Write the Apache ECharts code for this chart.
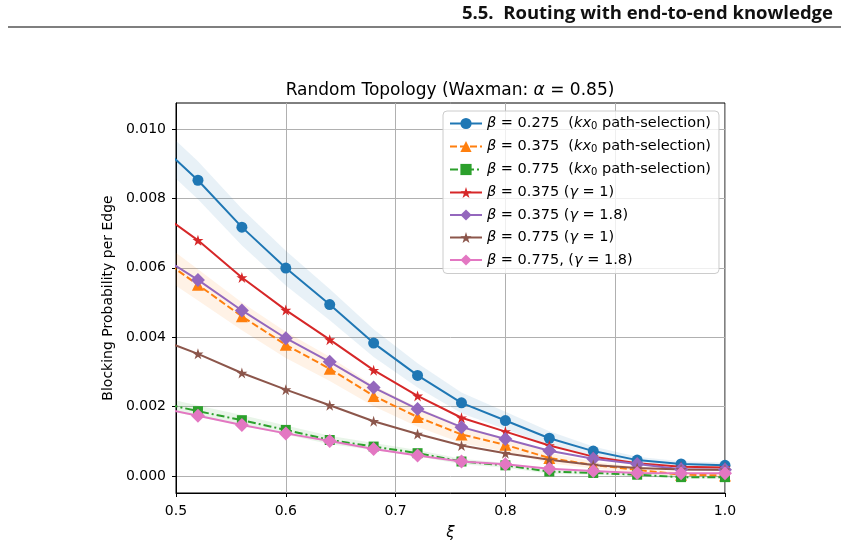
<!DOCTYPE html>
<html>
<head>
<meta charset="utf-8">
<script src="https://cdn.jsdelivr.net/npm/echarts@6/dist/echarts.min.js"></script>
<style>
html,body{margin:0;padding:0;background:#fff;}
#chart{width:841px;height:546px;}
</style>
</head>
<body>
<div id="chart"></div>
<script>
// ---- data ----
var xi = [0.48,0.52,0.56,0.60,0.64,0.68,0.72,0.76,0.80,0.84,0.88,0.92,0.96,1.00];
var yTicks = [0,0.002,0.004,0.006,0.008,0.010];
var xTicks = [0.5,0.6,0.7,0.8,0.9,1.0];

var blueKx = [0.0097,0.00852,0.00717,0.00599,0.00494,0.00383,0.00290,0.00211,0.00160,0.00109,0.00072,0.00046,0.00035,0.00031];
var orangeKx = [0.0064,0.00551,0.00460,0.00378,0.00309,0.00231,0.00170,0.00120,0.00090,0.00052,0.00032,0.00018,0.00004,0.00002];
var greenKx = [0.00215,0.00187,0.00161,0.00133,0.00104,0.00085,0.00066,0.00042,0.00031,0.00013,0.00009,0.00004,-0.00003,-0.00003];
var redG1 = [0.0077,0.00679,0.00572,0.00478,0.00393,0.00305,0.00231,0.00168,0.00128,0.00088,0.00056,0.00037,0.00027,0.00025];
var purpleG18 = [0.00645,0.00565,0.00477,0.00397,0.00329,0.00255,0.00193,0.00141,0.00107,0.00073,0.00050,0.00035,0.00020,0.00018];
var brownG1 = [0.0040,0.00352,0.00297,0.00249,0.00204,0.00158,0.00121,0.00088,0.00066,0.00047,0.00032,0.00023,0.00019,0.00018];
var pinkG18 = [0.0020,0.00174,0.00147,0.00123,0.00101,0.00078,0.00059,0.00042,0.00034,0.00021,0.00015,0.00009,0.00008,0.00008];

// confidence band half-widths
var blueBand = [0.00055,0.00055,0.00053,0.0005,0.00045,0.0004,0.00035,0.0003,0.00025,0.0002,0.00013,0.0001,0.00008,0.00008];
var orangeBand = [0.0005,0.00045,0.0004,0.00038,0.00035,0.0003,0.00028,0.00025,0.0002,0.00015,0.0001,0.00008,0.00006,0.00006];
var greenBand = [0.00018,0.00016,0.00015,0.00013,0.00012,0.0001,0.00009,0.00008,0.00007,0.00006,0.00005,0.00005,0.00004,0.00004];

var seriesNames = [
  'β = 0.275 (kx0 path-selection)',
  'β = 0.375 (kx0 path-selection)',
  'β = 0.775 (kx0 path-selection)',
  'β = 0.375 (γ = 1)',
  'β = 0.375 (γ = 1.8)',
  'β = 0.775 (γ = 1)',
  'β = 0.775, (γ = 1.8)'
];
var legendRich = [
  '{i|β} = 0.275  ({i|kx}{s|0} path-selection)',
  '{i|β} = 0.375  ({i|kx}{s|0} path-selection)',
  '{i|β} = 0.775  ({i|kx}{s|0} path-selection)',
  '{i|β} = 0.375 ({i|γ} = 1)',
  '{i|β} = 0.375 ({i|γ} = 1.8)',
  '{i|β} = 0.775 ({i|γ} = 1)',
  '{i|β} = 0.775, ({i|γ} = 1.8)'
];

// ---- build ----
var FONT = 'DejaVu Sans';
var STAR = 'path://M50 0 L61.17 34.63 L97.55 34.55 L68.07 55.87 L79.39 90.45 L50 69 L20.61 90.45 L31.93 55.87 L2.45 34.55 L38.83 34.63 Z';

function pairs(vals){ return xi.map(function(x,i){ return [x, vals[i]]; }); }

function band(vals, half, color){
  // one data row per x: [x, lower, upper]; polygon built with the axis scales
  var rows = xi.map(function(x,i){ return [x, vals[i]-half[i], vals[i]+half[i]]; });
  return {
    type:'custom', data:rows, clip:true, silent:true, z:1, animation:false,
    encode:{x:0, y:[1,2]},
    renderItem:function(params, api){
      if (params.dataIndex !== 0) return null;
      var top = [], bot = [];
      for (var i=0;i<rows.length;i++){
        top.push(api.coord([rows[i][0], rows[i][2]]));
        bot.push(api.coord([rows[i][0], rows[i][1]]));
      }
      var pts = top.concat(bot.reverse());
      var cs = params.coordSys;
      return {type:'polygon', shape:{points:pts}, style:{fill:color, stroke:null},
        clipPath:{type:'rect', shape:{x:cs.x, y:cs.y, width:cs.width, height:cs.height}}};
    }
  };
}

function line(name, vals, color, symbol, size, dash){
  return {type:'line', name:name, data:pairs(vals), symbol:symbol, symbolSize:size,
    showAllSymbol:true, clip:true, z:3, animation:false,
    lineStyle:{color:color, width:2, type:dash||'solid'},
    itemStyle:{color:color}};
}

var series = [
    band(blueKx, blueBand, 'rgba(31,119,180,0.10)'),
    band(orangeKx, orangeBand, 'rgba(255,127,14,0.10)'),
    band(greenKx, greenBand, 'rgba(44,160,44,0.10)'),
    line(seriesNames[0], blueKx, '#1f77b4', 'circle', 11),
    line(seriesNames[1], orangeKx, '#ff7f0e', 'triangle', 12, [7,3]),
    line(seriesNames[2], greenKx, '#2ca02c', 'rect', 10, [8,3,2,3]),
    line(seriesNames[3], redG1, '#d62728', STAR, 11),
    line(seriesNames[4], purpleG18, '#9467bd', 'diamond', 14),
    line(seriesNames[5], brownG1, '#8c564b', STAR, 11),
    line(seriesNames[6], pinkG18, '#e377c2', 'diamond', 14)
];

var chart = echarts.init(document.getElementById('chart'), null, {renderer:'canvas'});
chart.setOption({
  backgroundColor:'#ffffff',
  animation:false,
  textStyle:{fontFamily:FONT},
  title:{
    text:'Random Topology (Waxman: {i|α} = 0.85)',
    left:445, textAlign:'center', top:77,
    textStyle:{fontFamily:FONT, fontSize:17, fontWeight:'normal', color:'#000',
      rich:{i:{fontFamily:FONT, fontStyle:'italic', fontSize:17, color:'#000'}}}
  },
  graphic:[
    {type:'text', right:8, top:4, style:{text:'5.5.  Routing with end-to-end knowledge',
      font:'bold 18.5px "Open Sans", "DejaVu Sans", sans-serif', fill:'#111'}},
    {type:'line', shape:{x1:8, y1:27, x2:841, y2:27}, style:{stroke:'#555', lineWidth:1.5}}
  ],
  grid:{left:176, right:116, top:103, bottom:51, show:true, borderColor:'#000', borderWidth:1, backgroundColor:'transparent'},
  legend:{
    data:seriesNames,
    orient:'vertical', left:443, top:111,
    padding:[5,8,6,6], itemGap:7.5, itemWidth:32, itemHeight:14,
    backgroundColor:'rgba(255,255,255,0.8)', borderColor:'#cccccc', borderWidth:1, borderRadius:4,
    formatter:function(n){ return legendRich[seriesNames.indexOf(n)]; },
    textStyle:{fontFamily:FONT, fontSize:14.5, color:'#000',
      rich:{i:{fontFamily:FONT, fontStyle:'italic', fontSize:14.5, color:'#000'},
            s:{fontFamily:FONT, fontSize:10, color:'#000', verticalAlign:'bottom', padding:[6,0,0,0]}}}
  },
  xAxis:{
    type:'value', min:0.5, max:1.0, interval:0.1,
    name:'ξ', nameLocation:'middle', nameGap:33,
    nameTextStyle:{fontFamily:FONT, fontSize:15, fontStyle:'italic', color:'#000'},
    axisLine:{show:true, onZero:false, lineStyle:{color:'#000', width:1}},
    axisTick:{show:true, inside:false, length:4, lineStyle:{color:'#000'}},
    axisLabel:{color:'#000', fontFamily:FONT, fontSize:14, margin:11,
      formatter:function(v){ return v.toFixed(1); }},
    splitLine:{show:true, lineStyle:{color:'#b0b0b0', width:1}}
  },
  yAxis:{
    type:'value', min:-0.000487, max:0.010745,
    name:'Blocking Probability per Edge', nameLocation:'middle', nameGap:55,
    nameTextStyle:{fontFamily:FONT, fontSize:14, color:'#000'},
    axisLine:{show:true, onZero:false, lineStyle:{color:'#000', width:1}},
    axisTick:{show:true, inside:false, length:4, lineStyle:{color:'#000'}, customValues:yTicks},
    axisLabel:{color:'#000', fontFamily:FONT, fontSize:14, margin:10, customValues:yTicks,
      formatter:function(v){ return Number(v).toFixed(3); }},
    splitLine:{show:true, lineStyle:{color:'#b0b0b0', width:1}}
  },
  series:series
});
</script>
</body>
</html>
